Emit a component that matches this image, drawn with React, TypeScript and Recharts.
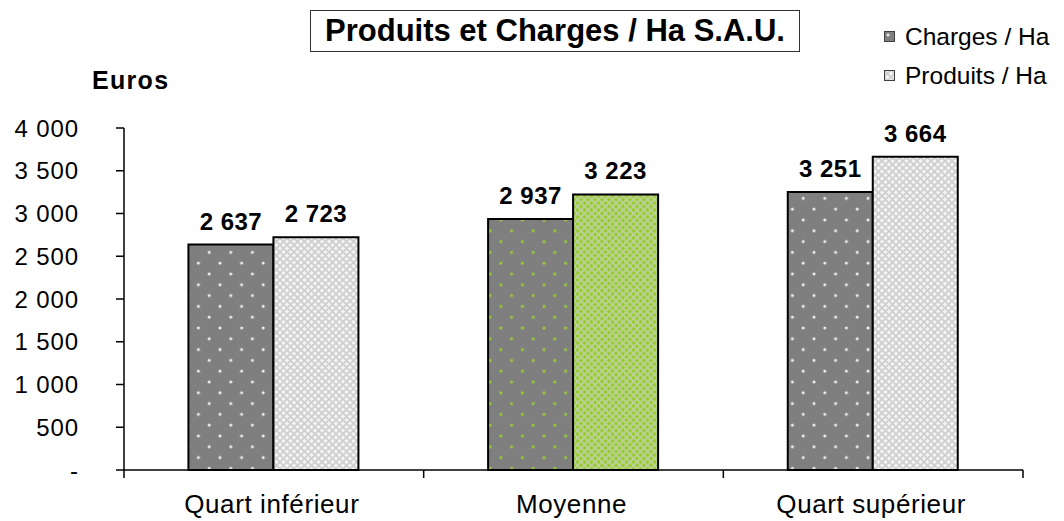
import React from "react";
import { BarChart, Bar, Cell, XAxis, YAxis, Legend, LabelList } from "recharts";

const categories = ["Quart inférieur", "Moyenne", "Quart supérieur"];
const charges = [2637, 2937, 3251];
const produits = [2723, 3223, 3664];
const yTicks = [0, 500, 1000, 1500, 2000, 2500, 3000, 3500, 4000];

const data = categories.map((name, i) => ({ name, charges: charges[i], produits: produits[i] }));

const FONT = "'Liberation Sans', Arial, sans-serif";

const fmt = (v: number) => (v === 0 ? "-" : String(v).replace(/\B(?=(\d{3})+(?!\d))/g, " "));

// tick label + boundary tick marks between categories
function CategoryTick(props: any) {
  const { x, y, payload, index, visibleTicksCount } = props;
  const half = payload && payload.offset ? payload.offset : 0;
  const last = index === visibleTicksCount - 1;
  return (
    <g>
      <line x1={x - half} x2={x - half} y1={y - 8} y2={y} stroke="#000" strokeWidth={1.5} />
      {last && <line x1={x + half} x2={x + half} y1={y - 8} y2={y} stroke="#000" strokeWidth={1.5} />}
      <text x={x - 2} y={y + 35} textAnchor="middle" fill="#000" fontSize={26} fontFamily={FONT} letterSpacing={0.6}>
        {payload.value}
      </text>
    </g>
  );
}

function LegendBox({ payload }: any) {
  return (
    <div style={{ fontFamily: FONT, fontSize: 24.5, color: "#000" }}>
      {(payload || []).map((e: any) => (
        <div key={e.value} style={{ display: "flex", alignItems: "center", height: 39, whiteSpace: "nowrap" }}>
          <svg width={11} height={11} style={{ marginRight: 10 }}>
            <rect x={0.5} y={0.5} width={10} height={10} fill={e.color} stroke="#404040" strokeWidth={1} />
          </svg>
          <span>{e.value}</span>
        </div>
      ))}
    </div>
  );
}

export default function App() {
  return (
    <div style={{ position: "relative", width: 1064, height: 521, background: "#fff" }}>
      <style>{"body{margin:0}"}</style>
      <div
        style={{
          position: "absolute", left: 310, top: 10, width: 490, height: 42, boxSizing: "border-box",
          border: "1.5px solid #333", display: "flex", alignItems: "center", justifyContent: "center",
          fontFamily: FONT, fontWeight: "bold", fontSize: 31, color: "#000", zIndex: 2,
        }}
      >
        Produits et Charges / Ha S.A.U.
      </div>
      <div
        style={{
          position: "absolute", left: 92, top: 68, lineHeight: "25px", fontFamily: FONT,
          fontWeight: "bold", fontSize: 25, letterSpacing: 1.3, color: "#000", zIndex: 2,
        }}
      >
        Euros
      </div>
      <BarChart
        width={1064}
        height={521}
        data={data}
        margin={{ top: 128, right: 41, bottom: 0, left: 0 }}
        barGap={0}
        barCategoryGap="21.5%"
      >
        <defs>
          <pattern id="dotsW" width="21.6" height="21.6" patternUnits="userSpaceOnUse">
            <rect width="21.6" height="21.6" fill="#7f7f7f" />
            <circle cx="4" cy="4" r="1.5" fill="#f2f2f2" />
            <circle cx="14.8" cy="14.8" r="1.5" fill="#f2f2f2" />
          </pattern>
          <pattern id="dotsG" width="21.6" height="21.6" patternUnits="userSpaceOnUse">
            <rect width="21.6" height="21.6" fill="#7f7f7f" />
            <circle cx="4" cy="4" r="1.6" fill="#99cc33" />
            <circle cx="14.8" cy="14.8" r="1.6" fill="#99cc33" />
          </pattern>
          <pattern id="crossL" width="7" height="7" patternUnits="userSpaceOnUse">
            <rect width="7" height="7" fill="#f4f4f4" />
            <path d="M0,0 L7,7 M7,0 L0,7" stroke="#cfcfcf" strokeWidth={1.8} />
          </pattern>
          <pattern id="crossG" width="7" height="7" patternUnits="userSpaceOnUse">
            <rect width="7" height="7" fill="#99cc33" />
            <path d="M0,0 L7,7 M7,0 L0,7" stroke="#bcd096" strokeWidth={1.8} />
          </pattern>
        </defs>
        <XAxis
          dataKey="name"
          height={51}
          axisLine={{ stroke: "#000", strokeWidth: 1.5 }}
          tickLine={false}
          tickSize={8}
          tickMargin={0}
          tick={<CategoryTick />}
          interval={0}
        />
        <YAxis
          type="number"
          domain={[0, 4000]}
          ticks={yTicks}
          width={124}
          tickSize={8}
          tickMargin={37}
          tickFormatter={fmt}
          axisLine={{ stroke: "#000", strokeWidth: 1.5 }}
          tickLine={{ stroke: "#000", strokeWidth: 1.5 }}
          tick={{ fill: "#000", fontSize: 24, fontFamily: FONT, letterSpacing: 0.9 }}
        />
        <Legend
          layout="vertical"
          align="center"
          verticalAlign="middle"
          content={<LegendBox />}
          wrapperStyle={{ left: 884, top: 17, width: 180 }}
        />
        <Bar dataKey="charges" name="Charges / Ha" fill="url(#dotsW)" stroke="#000" strokeWidth={2} isAnimationActive={false}>
          {categories.map((c, i) => (
            <Cell key={c} fill={i === 1 ? "url(#dotsG)" : "url(#dotsW)"} />
          ))}
          <LabelList dataKey="charges" position="top" offset={15} formatter={fmt}
            style={{ fill: "#000", fontSize: 24, fontWeight: "bold", fontFamily: FONT, letterSpacing: 0.5 }} />
        </Bar>
        <Bar dataKey="produits" name="Produits / Ha" fill="url(#crossL)" stroke="#000" strokeWidth={2} isAnimationActive={false}>
          {categories.map((c, i) => (
            <Cell key={c} fill={i === 1 ? "url(#crossG)" : "url(#crossL)"} />
          ))}
          <LabelList dataKey="produits" position="top" offset={15} formatter={fmt}
            style={{ fill: "#000", fontSize: 24, fontWeight: "bold", fontFamily: FONT, letterSpacing: 0.5 }} />
        </Bar>
      </BarChart>
    </div>
  );
}
